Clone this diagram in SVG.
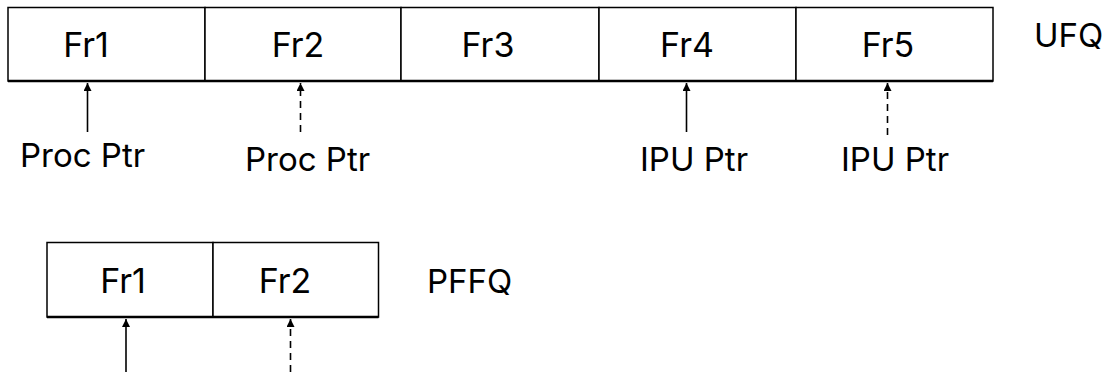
<svg xmlns="http://www.w3.org/2000/svg" width="1110" height="372" viewBox="0 0 1110 372">
<style>
.cell{fill:#fff;stroke:#000;stroke-width:1.5}
.base{stroke:#000;stroke-width:2.5;fill:none}
.fr{font-family:Inter,"Liberation Sans",sans-serif;font-size:34px;fill:#000;text-anchor:middle}
.lbl{font-family:Inter,"Liberation Sans",sans-serif;font-size:33px;fill:#000}
.ptr{stroke:#000;stroke-width:1.6;fill:none;marker-end:url(#ah)}
.dash{stroke-dasharray:7 5}
</style>
<defs>
<marker id="ah" viewBox="0 0 10 10" refX="10" refY="5" markerWidth="8" markerHeight="8" markerUnits="userSpaceOnUse" orient="auto">
<path d="M0,0 L10,5 L0,10 z" fill="#000"/>
</marker>
</defs>
<g id="ufq">
<g id="ufq-fr1"><rect class="cell" x="8" y="7.5" width="197" height="73.5"/><text class="fr" x="86" y="57">Fr1</text></g>
<g id="ufq-fr2"><rect class="cell" x="205" y="7.5" width="196" height="73.5"/><text class="fr" x="298" y="57">Fr2</text></g>
<g id="ufq-fr3"><rect class="cell" x="401" y="7.5" width="198" height="73.5"/><text class="fr" x="488" y="57">Fr3</text></g>
<g id="ufq-fr4"><rect class="cell" x="599" y="7.5" width="197" height="73.5"/><text class="fr" x="687" y="57">Fr4</text></g>
<g id="ufq-fr5"><rect class="cell" x="796" y="7.5" width="197" height="73.5"/><text class="fr" x="888" y="57">Fr5</text></g>
<line class="base" x1="8" y1="81" x2="993" y2="81"/>
</g>
<g id="ufq-label"><text class="lbl" x="1034" y="47">UFQ</text></g>
<g id="pffq">
<g id="pffq-fr1"><rect class="cell" x="47" y="242.5" width="166" height="74.5"/><text class="fr" x="123" y="293">Fr1</text></g>
<g id="pffq-fr2"><rect class="cell" x="213" y="242.5" width="165.5" height="74.5"/><text class="fr" x="285" y="293">Fr2</text></g>
<line class="base" x1="47" y1="317" x2="378.5" y2="317"/>
</g>
<g id="pffq-label"><text class="lbl" x="427" y="293">PFFQ</text></g>
<g id="labels">
<text class="lbl" x="20" y="167">Proc Ptr</text>
<text class="lbl" x="245" y="171">Proc Ptr</text>
<text class="lbl" x="640" y="171">IPU Ptr</text>
<text class="lbl" x="841" y="171">IPU Ptr</text>
</g>
<g id="connectors">
<line class="ptr" x1="87.5" y1="132" x2="87.5" y2="83"/>
<line class="ptr dash" x1="300.5" y1="132" x2="300.5" y2="83"/>
<line class="ptr" x1="686.5" y1="132" x2="686.5" y2="83"/>
<line class="ptr dash" x1="887.5" y1="135" x2="887.5" y2="83"/>
<line class="ptr" x1="126" y1="372" x2="126" y2="319"/>
<line class="ptr dash" x1="290.5" y1="372" x2="290.5" y2="319"/>
</g>
</svg>
